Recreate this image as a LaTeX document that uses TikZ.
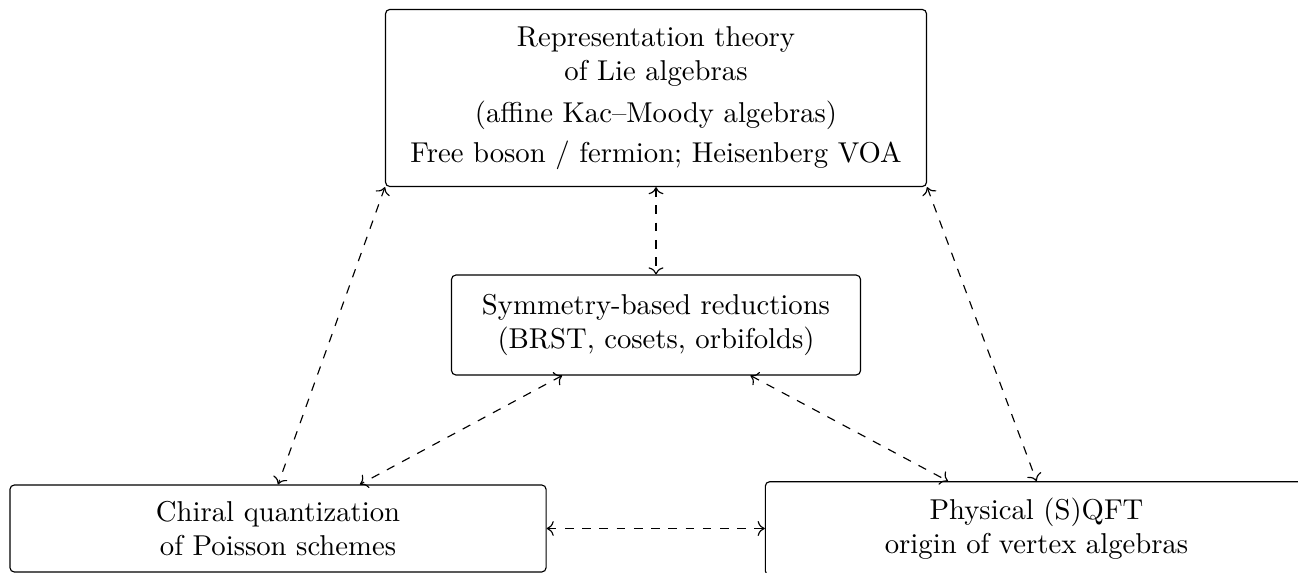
\documentclass[tikz,border=0pt]{standalone}
\usepackage{tikz}
\usetikzlibrary{positioning, arrows.meta}

\begin{document}
\begin{tikzpicture}[
    area/.style={draw, rectangle, rounded corners=1.5pt, align=center, inner sep=3pt},
    link/.style={<->, dashed}
]
    \useasboundingbox (-8.034,1.200) rectangle (7.862,-5.817);

    % Box at the top with the representation theory
    \node[area, minimum width=188.5pt, minimum height=61.7pt] (rep) at (0,0)
    {Representation theory\\ of Lie algebras\\[2.5pt] (affine Kac--Moody algebras)\\[2pt] Free boson / fermion; Heisenberg VOA};

    % Box in the middle for the reductions
    \node[area, minimum width=142.5pt, minimum height=34.8pt] (sym) at (0,-2.78)
    {Symmetry-based reductions\\ (BRST, cosets, orbifolds)};

    % Two boxes at the bottom, left and right
    \node[area, minimum width=186.8pt, minimum height=30.3pt] (chiral) at (-4.629,-5.272)
    {Chiral quantization\\ of Poisson schemes};
    \node[area, minimum width=189pt, minimum height=32.6pt] (phys) at (4.66,-5.272)
    {Physical (S)QFT\\ origin of vertex algebras};

    % Dashed two-way arrows from the top box
    \draw[link] (rep.south west) -- (chiral.north);
    \draw[link] (rep.south) -- (sym.north);
    \draw[link] (rep.south east) -- (phys.north);

    % Dashed two-way arrows from the middle box and between the bottom boxes
    \draw[link] (sym) -- (chiral);
    \draw[link] (sym) -- (phys);
    \draw[link] (chiral) -- (phys);
\end{tikzpicture}
\end{document}
